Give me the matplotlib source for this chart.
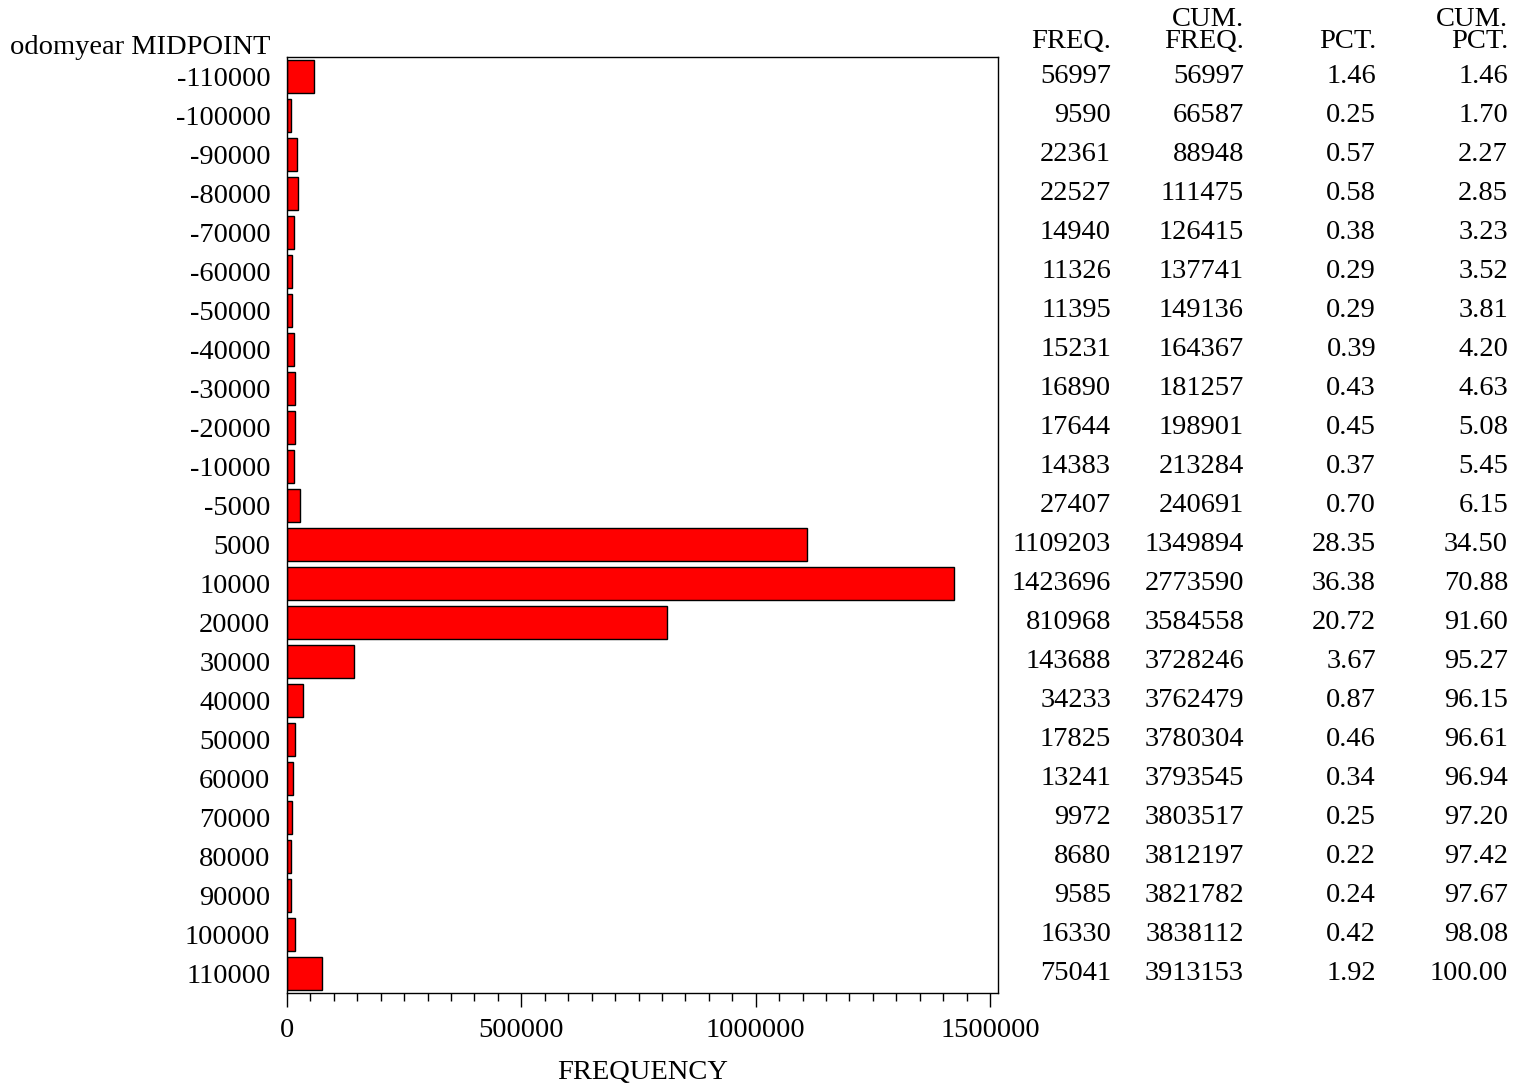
import matplotlib
matplotlib.use("Agg")
import matplotlib.pyplot as plt
from matplotlib.transforms import blended_transform_factory
from matplotlib.ticker import MultipleLocator

midpoints = ["-110000", "-100000", "-90000", "-80000", "-70000", "-60000", "-50000",
             "-40000", "-30000", "-20000", "-10000", "-5000", "5000", "10000", "20000",
             "30000", "40000", "50000", "60000", "70000", "80000", "90000", "100000", "110000"]
freq = [56997, 9590, 22361, 22527, 14940, 11326, 11395, 15231, 16890, 17644, 14383, 27407,
        1109203, 1423696, 810968, 143688, 34233, 17825, 13241, 9972, 8680, 9585, 16330, 75041]
cum_freq = [56997, 66587, 88948, 111475, 126415, 137741, 149136, 164367, 181257, 198901,
            213284, 240691, 1349894, 2773590, 3584558, 3728246, 3762479, 3780304, 3793545,
            3803517, 3812197, 3821782, 3838112, 3913153]
pct = ["1.46", "0.25", "0.57", "0.58", "0.38", "0.29", "0.29", "0.39", "0.43", "0.45",
       "0.37", "0.70", "28.35", "36.38", "20.72", "3.67", "0.87", "0.46", "0.34", "0.25",
       "0.22", "0.24", "0.42", "1.92"]
cum_pct = ["1.46", "1.70", "2.27", "2.85", "3.23", "3.52", "3.81", "4.20", "4.63", "5.08",
           "5.45", "6.15", "34.50", "70.88", "91.60", "95.27", "96.15", "96.61", "96.94",
           "97.20", "97.42", "97.67", "98.08", "100.00"]
xticks = [0, 500000, 1000000, 1500000]

plt.rcParams['font.family'] = ['Liberation Serif', 'DejaVu Serif']
FS = 20.5

W, H = 1517, 1087
fig = plt.figure(figsize=(W / 100, H / 100), dpi=100)
L, R, T, B = 287, 998, 57, 993
ax = fig.add_axes([L / W, 1 - B / H, (R - L) / W, (B - T) / H])

n = len(midpoints)
ypos = list(range(n))
ax.barh(ypos, freq, height=0.85, color='#ff0000', edgecolor='black', linewidth=1)
ax.set_ylim(n - 0.5, -0.5)
ax.set_xlim(0, 1500000 * (R - L) / (990 - L))
ax.set_yticks(ypos)
ax.set_yticklabels(midpoints, fontsize=FS)
ax.tick_params(axis='y', length=0, pad=12)
ax.set_xticks(xticks)
ax.set_xticklabels([str(v) for v in xticks], fontsize=FS)
ax.xaxis.set_minor_locator(MultipleLocator(50000))
ax.tick_params(axis='x', which='major', length=10, width=1, pad=8, direction='out')
ax.tick_params(axis='x', which='minor', length=6, width=1, direction='out')
for s in ax.spines.values():
    s.set_linewidth(1)
ax.set_xlabel("FREQUENCY", fontsize=FS, labelpad=12)

fig.text(270 / W, 1 - 48 / H, "odomyear MIDPOINT", fontsize=FS, ha='right', va='center')

tr = blended_transform_factory(fig.transFigure, ax.transData)
cols = [(1111, [str(v) for v in freq]), (1244, [str(v) for v in cum_freq]),
        (1376, pct), (1508, cum_pct)]
for xr, vals in cols:
    for i, v in enumerate(vals):
        fig.text(xr / W, i, v, transform=tr, fontsize=FS, ha='right', va='center')

# headers
fig.text(1111 / W, 1 - 42 / H, "FREQ.", fontsize=FS, ha='right', va='center')
fig.text(1244 / W, 1 - 19 / H, "CUM.", fontsize=FS, ha='right', va='center')
fig.text(1244 / W, 1 - 42 / H, "FREQ.", fontsize=FS, ha='right', va='center')
fig.text(1376 / W, 1 - 42 / H, "PCT.", fontsize=FS, ha='right', va='center')
fig.text(1508 / W, 1 - 19 / H, "CUM.", fontsize=FS, ha='right', va='center')
fig.text(1508 / W, 1 - 42 / H, "PCT.", fontsize=FS, ha='right', va='center')

fig.savefig("out.png", dpi=100)
